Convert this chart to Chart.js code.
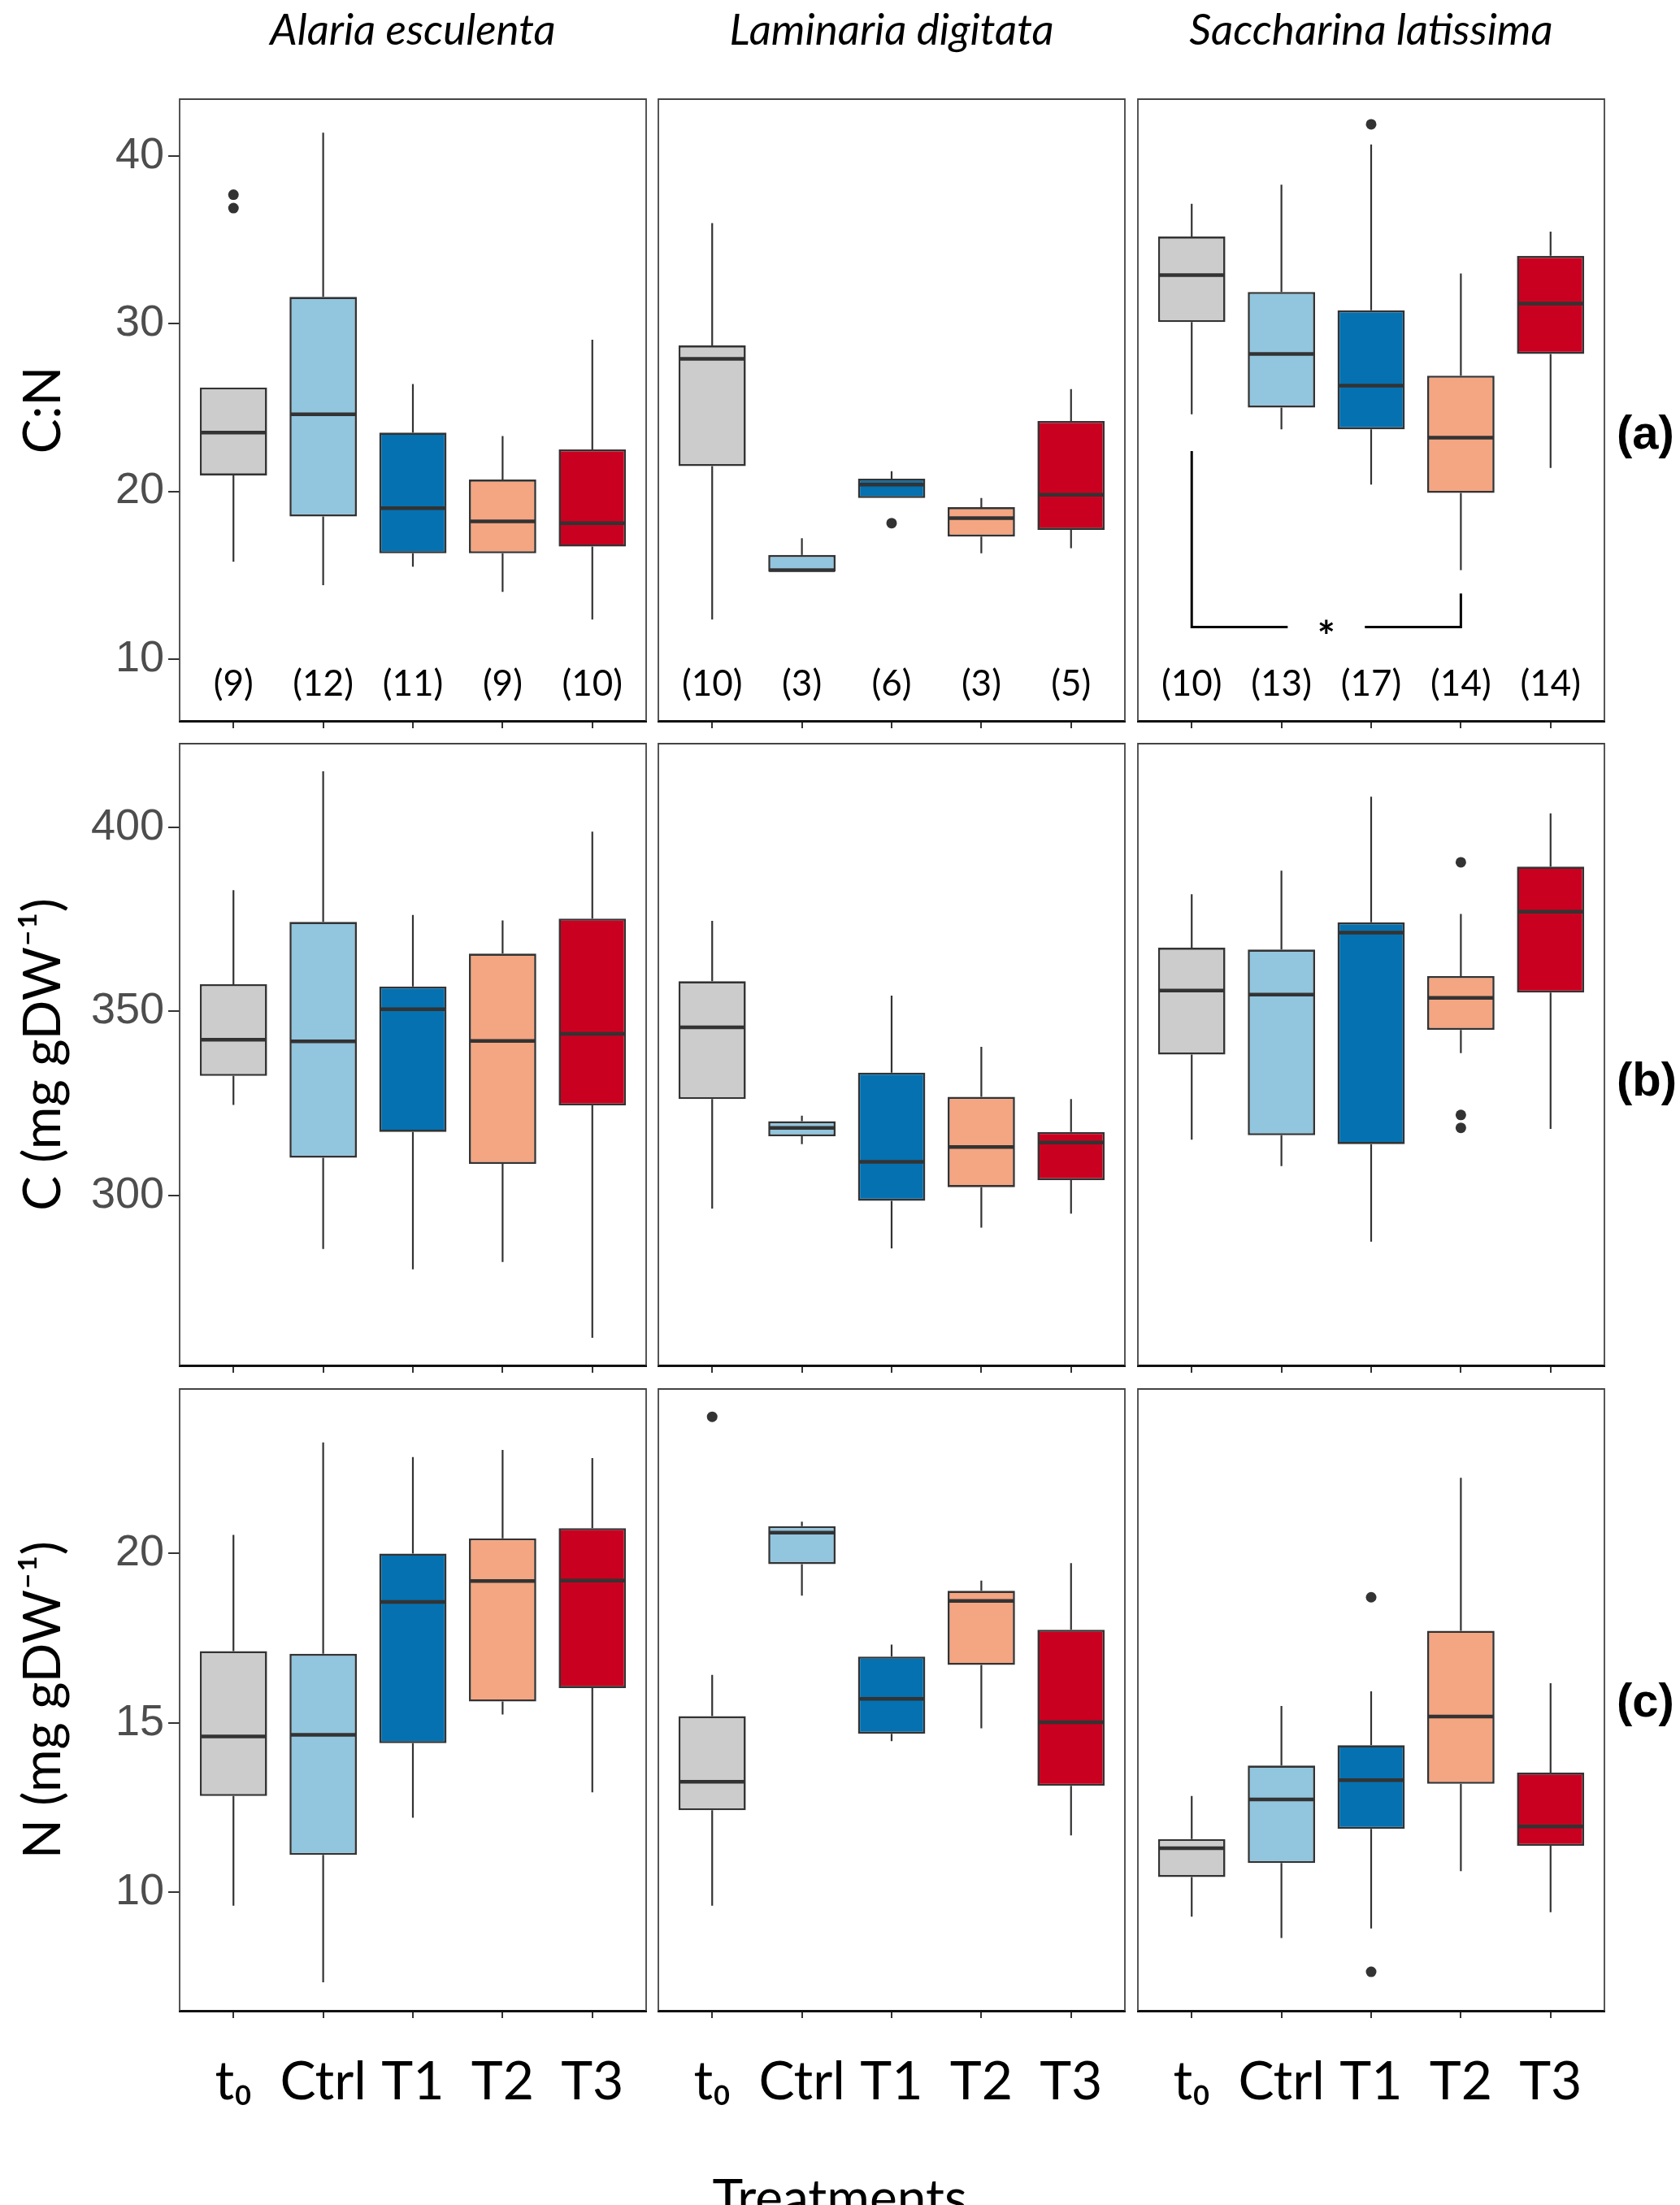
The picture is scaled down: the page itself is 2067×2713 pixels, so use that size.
<!DOCTYPE html>
<html>
<head>
<meta charset="utf-8">
<script src="https://cdn.jsdelivr.net/npm/chart.js@4.4.1/dist/chart.umd.min.js"></script>
<style>
  html, body { margin: 0; padding: 0; background: #fff; }
  #fig { position: relative; width: 2067px; height: 2713px; overflow: hidden; background: #fff; }
  #fig canvas { position: absolute; }
  .txt { position: absolute; white-space: nowrap; line-height: 1; color: #000; }
  .head { font-family: Lato, sans-serif; font-style: italic; font-size: 53px; transform: translateX(-50%); }
  .tag { font-family: 'Liberation Sans', Arial, sans-serif; font-weight: bold; font-size: 58px; }
  .xtitle { font-family: Lato, sans-serif; font-size: 64px; transform: translateX(-50%); }
</style>
</head>
<body>
<div id="fig"></div>
<script>
const categories = ['t₀', 'Ctrl', 'T1', 'T2', 'T3'];
const species = ['Alaria esculenta', 'Laminaria digitata', 'Saccharina latissima'];
const rowTitles = ['C:N', 'C (mg gDW⁻¹)', 'N (mg gDW⁻¹)'];
const rowTags = ['(a)', '(b)', '(c)'];
const boxColors = ['#cccccc', '#92c5de', '#0571b0', '#f4a582', '#ca0020'];

// y axis of each row
const yMin = [6.3, 253.9, 6.5];
const yMax = [43.4, 422.7, 24.86];
const yTicks = [[10, 20, 30, 40], [300, 350, 400], [10, 15, 20]];

// C:N ratio, one line per species
const cnLow = [[15.8, 14.4, 15.5, 14.0, 12.35], [12.35, 15.2, 19.6, 16.3, 16.6], [24.6, 23.7, 20.4, 15.3, 21.4]];
const cnQ1 = [[20.95, 18.5, 16.3, 16.3, 16.7], [21.5, 15.2, 19.6, 17.3, 17.7], [30.1, 25.0, 23.7, 19.9, 28.2]];
const cnMed = [[23.5, 24.6, 19.0, 18.2, 18.1], [27.9, 15.3, 20.4, 18.4, 19.8], [32.9, 28.2, 26.3, 23.2, 31.2]];
const cnQ3 = [[26.2, 31.6, 23.5, 20.7, 22.5], [28.7, 16.2, 20.75, 19.05, 24.2], [35.2, 31.9, 30.8, 26.9, 34.05]];
const cnHigh = [[26.2, 41.4, 26.4, 23.3, 29.05], [36.0, 17.2, 21.2, 19.6, 26.1], [37.15, 38.3, 40.7, 33.0, 35.5]];
const cnOut = [[[37.7, 36.9], [], [], [], []], [[], [], [18.1], [], []], [[], [], [41.9], [], []]];
const cnCounts = [[9, 12, 11, 9, 10], [10, 3, 6, 3, 5], [10, 13, 17, 14, 14]];
// significant pair t0 vs T2 in Saccharina
const cnBracket = { from: 0, to: 3, left: 22.4, right: 13.9, bar: 11.9, label: '*' };

// C (mg gDW-1)
const cLow = [[324.6, 285.5, 280.0, 282.0, 261.4], [296.5, 314.0, 285.7, 291.3, 295.1], [315.2, 308.0, 287.5, 338.7, 318.1]];
const cQ1 = [[332.5, 310.3, 317.3, 308.6, 324.5], [326.2, 316.1, 298.6, 302.3, 304.2], [338.3, 316.4, 314.0, 345.0, 355.1]];
const cMed = [[342.3, 341.9, 350.6, 342.0, 343.9], [345.7, 318.4, 309.2, 313.2, 314.4], [355.7, 354.6, 371.4, 353.7, 377.1]];
const cQ3 = [[357.4, 374.3, 356.8, 365.7, 375.2], [358.2, 320.2, 333.4, 326.8, 317.3], [367.3, 366.8, 374.2, 359.6, 389.3]];
const cHigh = [[382.9, 415.2, 376.2, 374.7, 398.8], [374.6, 321.7, 354.3, 340.4, 326.2], [381.8, 388.2, 408.3, 376.5, 403.8]];
const cOut = [[[], [], [], [], []], [[], [], [], [], []], [[], [], [], [390.5, 321.9, 318.4], []]];

// N (mg gDW-1)
const nLow = [[9.6, 7.34, 12.2, 15.25, 12.95], [9.6, 18.76, 14.46, 14.84, 11.68], [9.28, 8.65, 8.93, 10.62, 9.41]];
const nQ1 = [[12.84, 11.1, 14.4, 15.63, 16.03], [12.42, 19.69, 14.68, 16.71, 13.14], [10.45, 10.86, 11.87, 13.2, 11.37]];
const nMed = [[14.6, 14.65, 18.57, 19.19, 19.2], [13.26, 20.62, 15.71, 18.6, 15.02], [11.3, 12.74, 13.31, 15.19, 11.94]];
const nQ3 = [[17.12, 17.04, 20.0, 20.45, 20.75], [15.2, 20.81, 16.96, 18.9, 17.75], [11.57, 13.74, 14.34, 17.72, 13.53]];
const nHigh = [[20.55, 23.28, 22.85, 23.06, 22.82], [16.42, 20.94, 17.31, 19.2, 19.72], [12.84, 15.5, 15.93, 22.24, 16.17]];
const nOut = [[[], [], [], [], []], [[24.04], [], [], [], []], [[], [], [18.71, 7.65], [], []]];

const lowAll = [cnLow, cLow, nLow];
const q1All = [cnQ1, cQ1, nQ1];
const medAll = [cnMed, cMed, nMed];
const q3All = [cnQ3, cQ3, nQ3];
const highAll = [cnHigh, cHigh, nHigh];
const outAll = [cnOut, cOut, nOut];

// panel geometry
const panelLeft = [221, 810, 1400];
const panelTop = [122, 915, 1709];
const panelW = 574, panelH = 765;
const tagCentre = [532, 1328, 2092];
const countLabelAt = 8.5;

const fig = document.getElementById('fig');

function addText(text, cls, left, top) {
    const d = document.createElement('div');
    d.className = 'txt ' + cls;
    d.textContent = text;
    d.style.left = left + 'px';
    d.style.top = top + 'px';
    fig.appendChild(d);
}

species.forEach((s, c) => addText(s, 'head', panelLeft[c] + panelW / 2, 8));
rowTags.forEach((t, r) => addText(t, 'tag', 1989, tagCentre[r] - 29));
addText('Treatments', 'xtitle', 1033, 2671);

function boxPlugin(r, c) {
    const lo = lowAll[r][c], q1 = q1All[r][c], med = medAll[r][c];
    const q3 = q3All[r][c], hi = highAll[r][c], out = outAll[r][c];
    return {
        id: 'boxExtras',
        beforeDatasetsDraw(chart) {
            const { ctx, scales: { x, y } } = chart;
            ctx.save();
            ctx.strokeStyle = '#333333';
            ctx.lineWidth = 2.2;
            categories.forEach((_, i) => {
                const px = x.getPixelForValue(i);
                ctx.beginPath();
                ctx.moveTo(px, y.getPixelForValue(hi[i]));
                ctx.lineTo(px, y.getPixelForValue(q3[i]));
                ctx.moveTo(px, y.getPixelForValue(q1[i]));
                ctx.lineTo(px, y.getPixelForValue(lo[i]));
                ctx.stroke();
            });
            ctx.restore();
        },
        afterDatasetsDraw(chart) {
            const { ctx, scales: { x, y } } = chart;
            const bars = chart.getDatasetMeta(0).data;
            ctx.save();
            categories.forEach((_, i) => {
                const px = x.getPixelForValue(i);
                const half = bars[i].width / 2;
                const py = y.getPixelForValue(med[i]);
                ctx.strokeStyle = '#333333';
                ctx.lineWidth = 4.5;
                ctx.beginPath();
                ctx.moveTo(px - half + 1, py);
                ctx.lineTo(px + half - 1, py);
                ctx.stroke();
                ctx.fillStyle = '#333333';
                out[i].forEach(v => {
                    ctx.beginPath();
                    ctx.arc(px, y.getPixelForValue(v), 6.5, 0, Math.PI * 2);
                    ctx.fill();
                });
            });
            ctx.restore();
        },
        afterDraw(chart) {
            const { ctx, chartArea: a, scales: { x, y } } = chart;
            ctx.save();
            ctx.strokeStyle = '#444444';
            ctx.lineWidth = 1.8;
            ctx.beginPath();
            ctx.moveTo(a.left, a.bottom);
            ctx.lineTo(a.left, a.top);
            ctx.lineTo(a.right, a.top);
            ctx.lineTo(a.right, a.bottom);
            ctx.stroke();

            if (r === 0) {
                ctx.fillStyle = '#000';
                ctx.font = '44px Lato, sans-serif';
                ctx.textAlign = 'center';
                ctx.textBaseline = 'middle';
                cnCounts[c].forEach((n, i) => {
                    ctx.fillText('(' + n + ')', x.getPixelForValue(i), y.getPixelForValue(countLabelAt));
                });
            }
            if (r === 0 && c === 2) {
                const b = cnBracket;
                const x0 = x.getPixelForValue(b.from), x1 = x.getPixelForValue(b.to);
                const xm = x.getPixelForValue((b.from + b.to) / 2);
                const yb = y.getPixelForValue(b.bar);
                const gap = x.getPixelForValue(0.43) - x.getPixelForValue(0);
                ctx.strokeStyle = '#000';
                ctx.lineWidth = 3;
                ctx.beginPath();
                ctx.moveTo(x0, y.getPixelForValue(b.left));
                ctx.lineTo(x0, yb);
                ctx.lineTo(xm - gap, yb);
                ctx.moveTo(xm + gap, yb);
                ctx.lineTo(x1, yb);
                ctx.lineTo(x1, y.getPixelForValue(b.right));
                ctx.stroke();
                ctx.fillStyle = '#000';
                ctx.font = 'bold 52px Lato, sans-serif';
                ctx.textAlign = 'center';
                ctx.textBaseline = 'middle';
                ctx.fillText(b.label, xm, yb + 14);
            }
            ctx.restore();
        }
    };
}

function makePanel(r, c) {
    const first = c === 0, last = r === 2;
    const axisH = last ? 150 : 20;
    const canvas = document.createElement('canvas');
    const left = first ? 0 : panelLeft[c] - 3;
    const width = first ? panelLeft[0] + panelW + 3 : panelW + 6;
    const height = 3 + panelH + axisH;
    canvas.width = width;
    canvas.height = height;
    canvas.style.left = left + 'px';
    canvas.style.top = (panelTop[r] - 3) + 'px';
    canvas.style.width = width + 'px';
    canvas.style.height = height + 'px';
    fig.appendChild(canvas);

    const q1 = q1All[r][c], q3 = q3All[r][c];

    new Chart(canvas, {
        type: 'bar',
        data: {
            datasets: [{
                data: categories.map((_, i) => ({ x: i, y: [q1[i], q3[i]] })),
                backgroundColor: boxColors,
                borderColor: '#333333',
                borderWidth: 2.6,
                borderSkipped: false,
                barPercentage: 0.75,
                categoryPercentage: 1
            }]
        },
        options: {
            responsive: false,
            devicePixelRatio: 1,
            animation: false,
            events: [],
            layout: { padding: { top: 3, right: 3, left: first ? 0 : 3, bottom: 0 } },
            plugins: {
                legend: { display: false },
                tooltip: { enabled: false }
            },
            scales: {
                x: {
                    type: 'linear',
                    min: -0.6,
                    max: 4.6,
                    offset: false,
                    afterBuildTicks: ax => { ax.ticks = categories.map((_, i) => ({ value: i })); },
                    afterFit: ax => {
                        ax.height = axisH;
                        ax.paddingLeft = 0;
                        ax.paddingRight = 0;
                    },
                    grid: { drawOnChartArea: false, drawTicks: true, tickLength: 9, color: '#333333', lineWidth: 2, offset: false },
                    border: { display: true, color: '#111111', width: 3 },
                    ticks: {
                        display: last,
                        autoSkip: false,
                        maxRotation: 0,
                        padding: 39,
                        color: '#000',
                        font: { family: 'Lato, sans-serif', size: 66 },
                        callback: v => categories[v]
                    }
                },
                y: {
                    display: first,
                    min: yMin[r],
                    max: yMax[r],
                    afterBuildTicks: ax => { ax.ticks = yTicks[r].map(v => ({ value: v })); },
                    afterFit: ax => {
                        ax.width = first ? panelLeft[0] : 0;
                        ax.paddingTop = 0;
                        ax.paddingBottom = 0;
                    },
                    grid: { drawOnChartArea: false, drawTicks: true, tickLength: 14, color: '#333333', lineWidth: 2 },
                    border: { display: false },
                    ticks: {
                        padding: 5,
                        color: '#4d4d4d',
                        font: { family: "'Liberation Sans', Arial, sans-serif", size: 54 }
                    },
                    title: {
                        display: true,
                        text: rowTitles[r],
                        color: '#000',
                        font: { family: 'Lato, sans-serif', size: 64 },
                        padding: { top: 15, bottom: 0 }
                    }
                }
            }
        },
        plugins: [boxPlugin(r, c)]
    });
}

for (let r = 0; r < 3; r++) {
    for (let c = 0; c < 3; c++) makePanel(r, c);
}
</script>
</body>
</html>
